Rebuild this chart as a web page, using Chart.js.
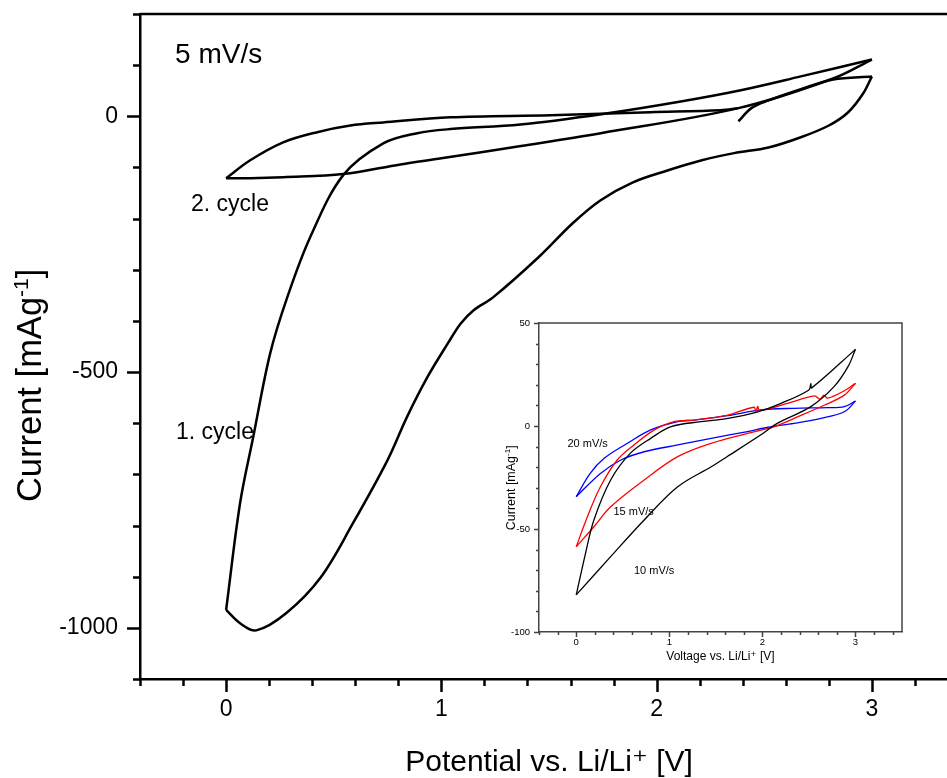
<!DOCTYPE html>
<html>
<head>
<meta charset="utf-8">
<title>Cyclic voltammetry</title>
<script src="https://cdn.jsdelivr.net/npm/chart.js@4.4.1/dist/chart.umd.min.js"></script>
<style>
  html, body { margin: 0; padding: 0; background: #fff; overflow: hidden; }
  #wrap { position: relative; width: 960px; height: 778px; }
  #main { position: absolute; left: 0; top: 0; }
  #inset { position: absolute; left: 490px; top: 310px; }
</style>
</head>
<body>
<div id="wrap">
  <canvas id="main" width="960" height="778"></canvas>
  <canvas id="inset" width="420" height="365"></canvas>
</div>
<script>
// Main plot, 5 mV/s: [potential V, current mA/g] for each sweep
const cycle1Start = [[2.38, -10], [2.44, 16], [2.52, 31], [2.67, 53], [2.82, 72], [3.0, 78]];
const cycle1Cathodic = [[3.0, 78], [2.96, 45], [2.89, 8], [2.80, -18], [2.67, -41], [2.52, -61], [2.36, -72],
  [2.21, -86], [2.05, -106], [1.89, -129], [1.74, -164], [1.61, -209], [1.45, -276], [1.24, -354],
  [1.15, -379], [1.09, -405], [1.03, -444], [0.935, -510], [0.84, -588], [0.75, -672], [0.59, -795],
  [0.44, -901], [0.28, -971], [0.14, -1005], [0.065, -991], [0, -965]];
const cycle1Anodic = [[0, -965], [0.065, -756], [0.126, -627], [0.205, -463], [0.284, -354],
  [0.391, -236], [0.544, -115], [0.73, -53], [0.888, -33], [1.042, -25], [1.367, -16], [1.772, 6],
  [2.112, 29], [2.391, 51], [2.67, 78], [3.0, 111]];
const cycle2Cathodic = [[3.0, 111], [2.82, 74], [2.38, 16], [1.74, -33], [1.37, -58], [1.0, -82], [0.81, -94],
  [0.544, -113], [0.265, -119], [0.112, -121], [0, -121]];
const cycle2Anodic = [[0, -121], [0.112, -86], [0.265, -51], [0.423, -31], [0.577, -18], [0.73, -12],
  [1.042, -2], [1.507, 2], [1.972, 8], [2.298, 12], [2.38, 16]];

// Inset: scan rates 10, 15, 20 mV/s
const rate10Up = [[0, -82], [0.10, -61.8], [0.19, -45.6], [0.37, -26.2], [0.58, -13.3], [0.80, -6.0], [1.02, -0.3],
  [1.34, 2.1], [1.63, 3.7], [1.95, 6.9], [2.20, 11.0], [2.50, 17.5], [2.52, 20.5], [2.53, 18.5], [3.0, 37.2]];
const rate10Down = [[3.0, 37.2], [2.92, 28.8], [2.77, 19.1], [2.52, 9.4], [2.16, 1.3], [1.98, -4.4], [1.62, -14.9],
  [1.45, -19.8], [1.09, -29.5], [0.73, -45.6], [0.37, -63.4], [0, -82]];
const rate15Up = [[0, -58.6], [0.12, -44.0], [0.26, -29.5], [0.44, -16.5], [0.62, -9.2], [0.84, -1.9], [1.05, 2.1],
  [1.27, 2.9], [1.63, 5.3], [1.91, 9.1], [1.93, 7.0], [1.95, 9.5], [1.97, 7.5], [2.27, 11.0], [2.56, 14.6],
  [2.62, 13.0], [2.66, 15.0], [2.70, 13.5], [2.88, 17.1], [3.0, 20.7]];
const rate15Down = [[3.0, 20.7], [2.88, 15.0], [2.67, 10.2], [2.34, 3.7], [2.13, -0.3], [1.84, -3.6], [1.45, -8.4],
  [1.09, -14.9], [0.73, -26.2], [0.37, -39.2], [0.19, -48.9], [0, -58.6]];
const rate20Up = [[0, -34.3], [0.15, -23.0], [0.30, -15.7], [0.55, -8.4], [0.80, -1.9], [1.09, 2.1], [1.27, 2.9],
  [1.63, 5.0], [1.98, 7.8], [2.34, 8.6], [2.70, 8.9], [2.88, 9.4], [3.0, 12.1]];
const rate20Down = [[3.0, 12.1], [2.88, 6.9], [2.63, 3.7], [2.34, 1.3], [2.06, -0.6], [1.84, -2.7], [1.45, -6.0],
  [1.09, -9.2], [0.73, -12.5], [0.48, -16.5], [0.26, -23.0], [0, -34.3]];

const mainXTicks = [0, 1, 2, 3];
const mainYTicks = [-1000, -500, 0];
const insetXTicks = [0, 1, 2, 3];
const insetYTicks = [-100, -50, 0, 50];

const FONT = '"Liberation Sans", Arial, "DejaVu Sans", sans-serif';

const toXY = arr => arr.map(p => ({ x: p[0], y: p[1] }));

// frame: top/right border lines and outward major/minor tick marks
const frameTicks = {
  id: 'frameTicks',
  afterDraw(chart, args, o) {
    const { ctx, chartArea: a, scales: { x, y } } = chart;
    ctx.save();
    ctx.strokeStyle = o.color;
    ctx.lineWidth = o.width;
    ctx.beginPath();
    ctx.moveTo(a.left, a.top);
    ctx.lineTo(a.right, a.top);
    if (o.right) ctx.lineTo(a.right, a.bottom);
    for (let k = Math.ceil(x.min / o.xMinor - 1e-6); k * o.xMinor <= x.max + 1e-6; k++) {
      const v = k * o.xMinor;
      const major = Math.abs(v / o.xMajor - Math.round(v / o.xMajor)) < 1e-6;
      const px = Math.round(x.getPixelForValue(v)) + 0.5;
      ctx.moveTo(px, a.bottom);
      ctx.lineTo(px, a.bottom + (major ? o.major : o.minor));
    }
    for (let k = Math.ceil(y.min / o.yMinor - 1e-6); k * o.yMinor <= y.max + 1e-6; k++) {
      const v = k * o.yMinor;
      const major = Math.abs(v / o.yMajor - Math.round(v / o.yMajor)) < 1e-6;
      const py = Math.round(y.getPixelForValue(v)) + 0.5;
      ctx.moveTo(a.left, py);
      ctx.lineTo(a.left - (major ? o.major : o.minor), py);
    }
    ctx.stroke();
    ctx.restore();
  }
};

// free text notes placed in data coordinates, plus the rotated y title with a real superscript
const notes = {
  id: 'notes',
  afterDraw(chart, args, o) {
    const { ctx, scales: { x, y } } = chart;
    ctx.save();
    ctx.fillStyle = '#000';
    ctx.textAlign = 'left';
    ctx.textBaseline = 'middle';
    o.items.forEach(n => {
      ctx.font = n.size + 'px ' + FONT;
      ctx.fillText(n.text, x.getPixelForValue(n.x), y.getPixelForValue(n.y));
    });

    const t = o.yTitle;
    const big = t.size + 'px ' + FONT, small = Math.round(t.size * 0.62) + 'px ' + FONT;
    ctx.font = big; const w1 = ctx.measureText(t.main).width, w3 = ctx.measureText(t.end).width;
    ctx.font = small; const w2 = ctx.measureText(t.sup).width;
    ctx.translate(t.x, y.getPixelForValue(t.center));
    ctx.rotate(-Math.PI / 2);
    ctx.textBaseline = 'alphabetic';
    let cx = -(w1 + w2 + w3) / 2;
    const base = t.size * 0.36;
    ctx.font = big; ctx.fillText(t.main, cx, base); cx += w1;
    ctx.font = small; ctx.fillText(t.sup, cx, base - t.size * 0.38); cx += w2;
    ctx.font = big; ctx.fillText(t.end, cx, base);
    ctx.restore();
  }
};

function lineSet(arr, color, width) {
  return {
    data: toXY(arr), borderColor: color, borderWidth: width, pointRadius: 0,
    tension: 0.35, fill: false, showLine: true
  };
}

function axis(opts) {
  return {
    type: 'linear', min: opts.min, max: opts.max,
    afterBuildTicks: s => { s.ticks = opts.ticks.map(v => ({ value: v })); },
    afterFit: s => {
      if (opts.w) s.width = opts.w;
      if (opts.h) s.height = opts.h;
      s.paddingTop = 0; s.paddingBottom = 0; s.paddingLeft = 0; s.paddingRight = 0;
    },
    grid: { display: false, drawTicks: false },
    border: { display: true, color: opts.color, width: opts.lw },
    ticks: { padding: opts.pad, color: '#000', font: { family: FONT, size: opts.tickSize }, callback: v => String(v), autoSkip: false, maxRotation: 0 },
    title: { display: !!opts.title, text: opts.title || '', color: '#000', font: { family: FONT, size: opts.titleSize, lineHeight: 1 }, padding: opts.titlePad }
  };
}

new Chart(document.getElementById('main'), {
  type: 'line',
  data: {
    datasets: [cycle1Start, cycle1Cathodic, cycle1Anodic, cycle2Cathodic, cycle2Anodic].map(s => lineSet(s, '#000', 2.5))
  },
  options: {
    responsive: false, animation: false, devicePixelRatio: 1,
    layout: { padding: { top: 14, right: 2, left: 0, bottom: 0 } },
    plugins: {
      legend: { display: false }, tooltip: { enabled: false },
      frameTicks: { color: '#000', width: 2.5, major: 13, minor: 7, xMinor: 0.2, xMajor: 1, yMinor: 100, yMajor: 500, right: true },
      notes: {
        items: [
          { text: '5 mV/s', x: -0.237, y: 119, size: 28 },
          { text: '2. cycle', x: -0.163, y: -172, size: 23 },
          { text: '1. cycle', x: -0.233, y: -618, size: 23 }
        ],
        yTitle: { main: 'Current [mAg', sup: '-1', end: ']', size: 34.5, x: 29, center: -526 }
      }
    },
    scales: {
      x: axis({ min: -0.4, max: 3.4, ticks: mainXTicks, h: 99, color: '#000', lw: 2.5, pad: 17, tickSize: 23,
        title: 'Potential vs. Li/Li\u207A [V]', titleSize: 30, titlePad: { top: 0, bottom: 0 } }),
      y: axis({ min: -1100, max: 200, ticks: mainYTicks, w: 140, color: '#000', lw: 2.5, pad: 22, tickSize: 23 })
    }
  },
  plugins: [frameTicks, notes]
});

new Chart(document.getElementById('inset'), {
  type: 'line',
  data: {
    datasets: [
      lineSet(rate10Up, '#000', 1.3), lineSet(rate10Down, '#000', 1.3),
      lineSet(rate15Up, '#ff0000', 1.3), lineSet(rate15Down, '#ff0000', 1.3),
      lineSet(rate20Up, '#0000ff', 1.3), lineSet(rate20Down, '#0000ff', 1.3)
    ]
  },
  options: {
    responsive: false, animation: false, devicePixelRatio: 1,
    layout: { padding: { top: 13, right: 8, left: 0, bottom: 0 } },
    plugins: {
      legend: { display: false }, tooltip: { enabled: false },
      frameTicks: { color: '#444', width: 1.5, major: 5, minor: 3, xMinor: 0.2, xMajor: 1, yMinor: 10, yMajor: 50, right: true },
      notes: {
        items: [
          { text: '20 mV/s', x: -0.094, y: -8.7, size: 11 },
          { text: '15 mV/s', x: 0.40, y: -41.7, size: 11 },
          { text: '10 mV/s', x: 0.62, y: -70.4, size: 11 }
        ],
        yTitle: { main: 'Current [mAg', sup: '-1', end: ']', size: 12.5, x: 20, center: -30 }
      }
    },
    scales: {
      x: axis({ min: -0.4, max: 3.5, ticks: insetXTicks, h: 43, color: '#444', lw: 1.5, pad: 5, tickSize: 9.5,
        title: 'Voltage vs. Li/Li\u207A [V]', titleSize: 12, titlePad: { top: 0, bottom: 12 } }),
      y: axis({ min: -100, max: 50, ticks: insetYTicks, w: 49, color: '#444', lw: 1.5, pad: 9, tickSize: 9.5 })
    }
  },
  plugins: [frameTicks, notes]
});
</script>
</body>
</html>
